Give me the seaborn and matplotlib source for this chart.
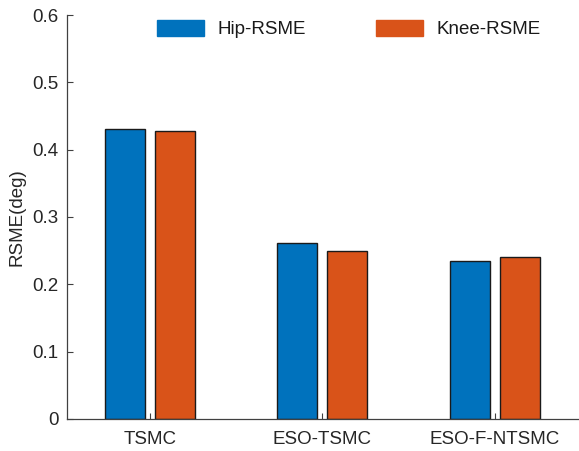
import matplotlib
matplotlib.use("Agg")
import matplotlib.pyplot as plt
import seaborn as sns
import pandas as pd

# Controller comparison: RMSE of hip and knee joint tracking
controllers = ["TSMC", "ESO-TSMC", "ESO-F-NTSMC"]
hip_rsme = [0.430, 0.262, 0.234]
knee_rsme = [0.427, 0.249, 0.241]
series_names = ["Hip-RSME", "Knee-RSME"]
y_ticks = [0, 0.1, 0.2, 0.3, 0.4, 0.5, 0.6]
colors = ["#0072BD", "#D95319"]

df = pd.DataFrame({
    "controller": controllers * 2,
    "rsme": hip_rsme + knee_rsme,
    "series": [series_names[0]] * len(controllers) + [series_names[1]] * len(controllers),
})

sns.set_style("white")
plt.rcParams["font.family"] = ["Liberation Sans", "DejaVu Sans"]

axis_color = "#404040"
text_color = "#262626"
fs = 13.5

fig = plt.figure(figsize=(5.79, 4.51), dpi=100)
ax = fig.add_axes([0.1157, 0.071, 0.8843, 0.8957])

sns.barplot(
    data=df, x="controller", y="rsme", hue="series",
    palette=colors, width=0.58, gap=0.2,
    edgecolor="#1a1a1a", linewidth=1.0, saturation=1.0,
    errorbar=None, ax=ax,
)

ax.set_xlim(-0.48, 2.49)
ax.set_ylim(0, 0.6)
ax.set_yticks(y_ticks)
ax.set_yticklabels([f"{t:g}" for t in y_ticks])
ax.set_xlabel("")
ax.set_ylabel("RSME(deg)", fontsize=fs, color=text_color)
ax.yaxis.set_label_coords(-0.082, 0.5)

for side in ["top", "right"]:
    ax.spines[side].set_visible(False)
for side in ["left", "bottom"]:
    ax.spines[side].set_color(axis_color)
    ax.spines[side].set_linewidth(0.9)

# Short inward ticks on the left and bottom axes
ax.tick_params(axis="both", which="major", bottom=True, left=True,
               direction="in", length=4, width=0.8,
               color=axis_color, labelsize=fs, labelcolor=text_color)
ax.tick_params(axis="x", pad=9)
ax.tick_params(axis="y", pad=6)

handles, labels = ax.get_legend_handles_labels()
leg = ax.legend(
    handles, labels, ncol=2, frameon=False, fontsize=fs,
    loc="center left", bbox_to_anchor=(157 / 579, 1 - 29 / 451),
    bbox_transform=fig.transFigure,
    handlelength=2.5, handleheight=0.96, handletextpad=0.72,
    columnspacing=3.75, borderaxespad=0, borderpad=0,
)
for patch, c in zip(leg.get_patches(), colors):
    patch.set_edgecolor(c)
for t in leg.get_texts():
    t.set_color("#1a1a1a")

fig.savefig("out.png", dpi=100)
